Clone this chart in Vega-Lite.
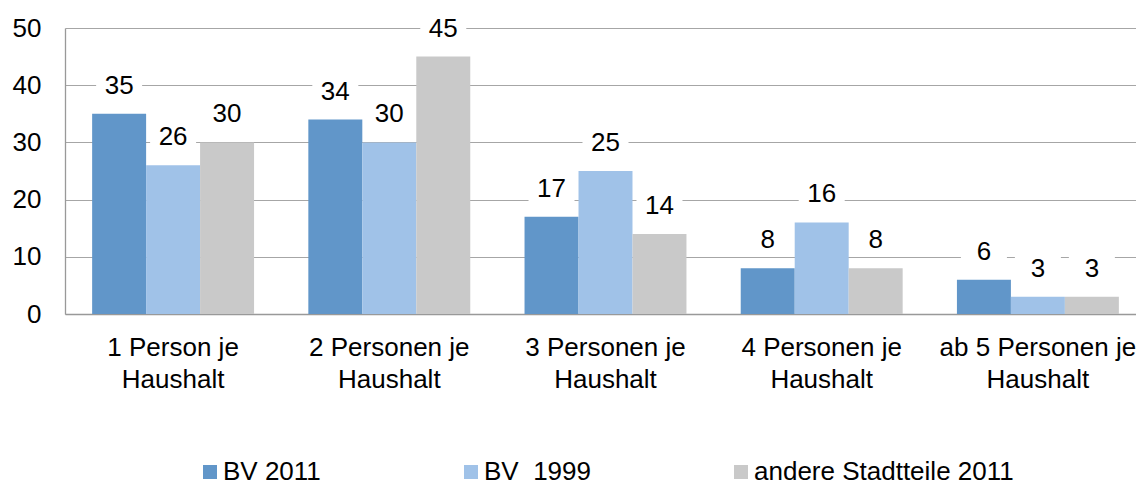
{
  "$schema": "https://vega.github.io/schema/vega-lite/v6.json",
  "autosize": "none",
  "width": 1071,
  "height": 286,
  "padding": {"left": 65, "top": 28, "right": 0, "bottom": 171},
  "background": "white",
  "config": {
    "font": "Liberation Sans",
    "view": {"stroke": null}
  },
  "data": {
    "values": [
      {"kategorie": "1 Person je Haushalt", "serie": "BV 2011", "wert": 35},
      {"kategorie": "1 Person je Haushalt", "serie": "BV \u00a01999", "wert": 26},
      {"kategorie": "1 Person je Haushalt", "serie": "andere Stadtteile 2011", "wert": 30},
      {"kategorie": "2 Personen je Haushalt", "serie": "BV 2011", "wert": 34},
      {"kategorie": "2 Personen je Haushalt", "serie": "BV \u00a01999", "wert": 30},
      {"kategorie": "2 Personen je Haushalt", "serie": "andere Stadtteile 2011", "wert": 45},
      {"kategorie": "3 Personen je Haushalt", "serie": "BV 2011", "wert": 17},
      {"kategorie": "3 Personen je Haushalt", "serie": "BV \u00a01999", "wert": 25},
      {"kategorie": "3 Personen je Haushalt", "serie": "andere Stadtteile 2011", "wert": 14},
      {"kategorie": "4 Personen je Haushalt", "serie": "BV 2011", "wert": 8},
      {"kategorie": "4 Personen je Haushalt", "serie": "BV \u00a01999", "wert": 16},
      {"kategorie": "4 Personen je Haushalt", "serie": "andere Stadtteile 2011", "wert": 8},
      {"kategorie": "ab 5 Personen je Haushalt", "serie": "BV 2011", "wert": 6},
      {"kategorie": "ab 5 Personen je Haushalt", "serie": "BV \u00a01999", "wert": 3},
      {"kategorie": "ab 5 Personen je Haushalt", "serie": "andere Stadtteile 2011", "wert": 3}
    ]
  },
  "encoding": {
    "x": {
      "field": "kategorie",
      "type": "nominal",
      "sort": null,
      "scale": {"paddingInner": 0.251, "paddingOuter": 0.1255, "range": [0, 1081]},
      "axis": {
        "title": null,
        "labelAngle": 0,
        "labelFontSize": 26,
        "labelColor": "#000000",
        "labelPadding": 20,
        "labelLineHeight": 32,
        "labelExpr": "datum.label == '1 Person je Haushalt' ? ['1 Person je', 'Haushalt'] : [replace(datum.label, ' Haushalt', ''), 'Haushalt']",
        "labelLimit": 400,
        "labelOverlap": false,
        "ticks": false,
        "domainColor": "#999999",
        "domainWidth": 1.3,
        "grid": false
      }
    },
    "xOffset": {"field": "serie", "type": "nominal", "sort": ["BV 2011", "BV \u00a01999", "andere Stadtteile 2011"]},
    "y": {
      "field": "wert",
      "type": "quantitative",
      "scale": {"domain": [0, 50]},
      "axis": {
        "title": null,
        "values": [0, 10, 20, 30, 40, 50],
        "labelFontSize": 26,
        "labelColor": "#000000",
        "labelPadding": 24,
        "ticks": false,
        "domainColor": "#999999",
        "domainWidth": 1.3,
        "gridColor": "#a6a6a6",
        "gridWidth": 1.2
      }
    }
  },
  "layer": [
    {
      "mark": {"type": "bar"},
      "encoding": {
        "color": {
          "field": "serie",
          "type": "nominal",
          "sort": ["BV 2011", "BV \u00a01999", "andere Stadtteile 2011"],
          "scale": {
            "domain": ["BV 2011", "BV \u00a01999", "andere Stadtteile 2011"],
            "range": ["#6196c9", "#a0c2e8", "#c9c9c9"]
          },
          "legend": {
            "title": null,
            "orient": "none",
            "legendX": 132,
            "legendY": 431,
            "direction": "horizontal",
            "columns": 3,
            "symbolType": "square",
            "symbolSize": 196,
            "symbolStrokeWidth": 0,
            "labelFontSize": 26,
            "labelColor": "#000000",
            "labelOffset": 0,
            "columnPadding": 137,
            "labelLimit": 400
          }
        }
      }
    },
    {
      "mark": {
        "type": "point",
        "shape": "M-1,-0.62H1V0.62H-1Z",
        "size": 2116,
        "filled": true,
        "color": "white",
        "opacity": 1,
        "yOffset": -29
      }
    },
    {
      "mark": {
        "type": "text",
        "fontSize": 26,
        "color": "#000000",
        "baseline": "middle",
        "dy": -28
      },
      "encoding": {"text": {"field": "wert", "type": "quantitative"}}
    }
  ]
}
